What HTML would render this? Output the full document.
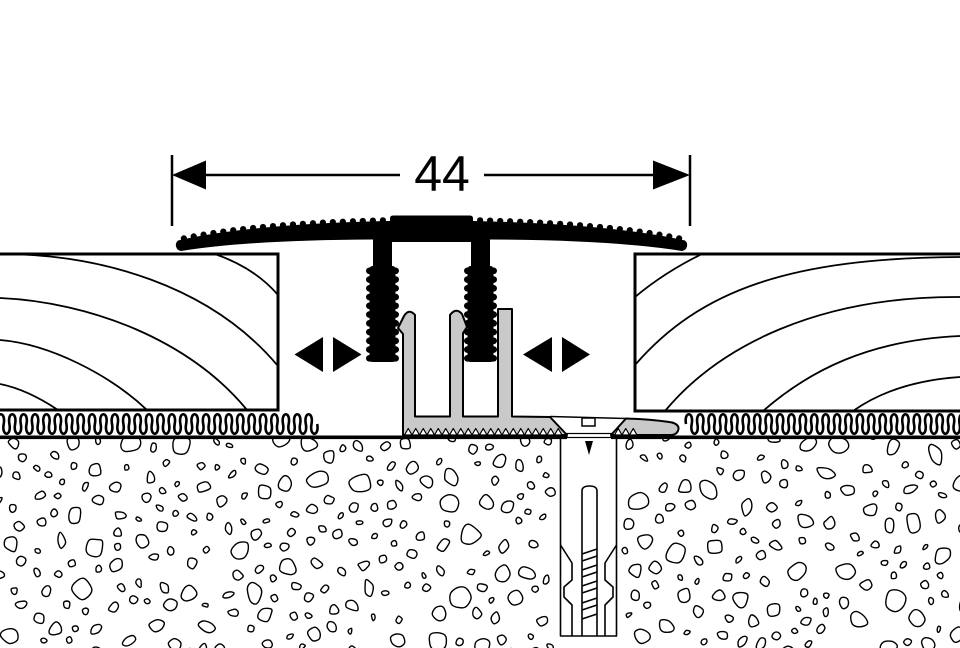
<!DOCTYPE html>
<html><head><meta charset="utf-8">
<style>
html,body{margin:0;padding:0;background:#fff;}
svg{display:block;}
</style></head><body>
<svg id="s" width="960" height="648" viewBox="0 0 960 648" xmlns="http://www.w3.org/2000/svg">
<defs>
<clipPath id="cl"><rect x="0" y="439" width="560.5" height="209"/><rect x="616.5" y="439" width="344" height="209"/></clipPath>
<clipPath id="lb"><rect x="0" y="254" width="278" height="156"/></clipPath>
<clipPath id="rb"><rect x="635" y="254" width="325" height="157"/></clipPath>
</defs>
<rect width="960" height="648" fill="#fff"/>

<g id="peb" clip-path="url(#cl)" fill="#fff" stroke="#000" stroke-width="1.4"></g>

<!-- dowel -->
<g fill="none" stroke="#000" stroke-width="1.6" stroke-linejoin="round">
<path d="M560.5,438 L560.5,636 L616.5,636 L616.5,438"/>
<path d="M560.5,545 L572,563 L572,580 L564,587 L564,597 L572,605 L572,636"/>
<path d="M616.5,545 L605,563 L605,580 L613,587 L613,597 L605,605 L605,636"/>
<path d="M582,636 L582,491 Q582,486 589.5,486 Q597,486 597,491 L597,636"/>
<g id="thr"></g>
</g>
<path d="M585,441 L593,441 L589,455 Z" fill="#000"/>

<!-- floor line -->
<rect x="0" y="435.5" width="567" height="3.6" fill="#000"/>
<rect x="611" y="435.5" width="349" height="3.6" fill="#000"/>
<rect x="567" y="433.5" width="44" height="4" fill="#fff" stroke="#000" stroke-width="1.2"/>

<!-- carpet waves -->
<path id="wl" fill="none" stroke="#000" stroke-width="2.6"/>
<path id="wr" fill="none" stroke="#000" stroke-width="2.6"/>

<!-- boards -->
<g fill="none" stroke="#000" stroke-width="1.8">
<g clip-path="url(#lb)">
<path d="M215,254 Q255,268 278,295"/>
<path d="M0,254 C100,254 210,285 278,366"/>
<path d="M0,298 C90,302 190,340 247,410"/>
<path d="M0,340 C50,344 110,375 147,410"/>
<path d="M0,384 C20,388 40,398 58,410"/>
</g>
<g clip-path="url(#rb)">
<path d="M635,297 Q665,272 702,254"/>
<path d="M635,365 C700,290 790,258 960,257"/>
<path d="M665,411 C720,345 820,296 960,297"/>
<path d="M763,411 C810,370 870,340 960,336"/>
<path d="M853,411 C880,392 915,380 960,377"/>
</g>
</g>
<path d="M-5,254 L278,254 L278,410 L-5,410" fill="none" stroke="#000" stroke-width="3"/>
<path d="M965,254 L635,254 L635,411 L965,411" fill="none" stroke="#000" stroke-width="3"/>

<!-- black T profile -->
<g id="half" fill="#000">
<path d="M390,221 Q250,224 178,240.5 A6,6 0 0 0 181,251 Q250,240 373,239.5 L432,239.5 L432,221 Z"/>
<path d="M432,215.5 L393,215.5 Q390,215.5 390,218.5 L390,242 L432,242 Z"/>
<rect x="373" y="236" width="19" height="126" rx="2"/>
<rect x="369.5" y="266" width="26" height="96" rx="3"/>
<rect x="366" y="267.5" width="33" height="6.6" rx="3.3"/>
<rect x="366" y="276.25" width="33" height="6.6" rx="3.3"/>
<rect x="366" y="285" width="33" height="6.6" rx="3.3"/>
<rect x="366" y="293.75" width="33" height="6.6" rx="3.3"/>
<rect x="366" y="302.5" width="33" height="6.6" rx="3.3"/>
<rect x="366" y="311.25" width="33" height="6.6" rx="3.3"/>
<rect x="366" y="320" width="33" height="6.6" rx="3.3"/>
<rect x="366" y="328.75" width="33" height="6.6" rx="3.3"/>
<rect x="366" y="337.5" width="33" height="6.6" rx="3.3"/>
<rect x="366" y="346.25" width="33" height="6.6" rx="3.3"/>
<rect x="366" y="355" width="33" height="6.6" rx="3.3"/>
<g id="ser"></g>
</g>
<use href="#half" transform="translate(863,0) scale(-1,1)"/>

<!-- aluminium base -->
<path d="M403,435 L403,334 L398,328 L404,316 Q409,308 415,315 L415,416.5 L450,416.5 L450,315 Q456,307 462,314 L467,327 L463,333 L463,416.5 L498,416.5 L498,309 L512,309 L512,416.5 L550,417 L567,435 Z" fill="#c9c9c9" stroke="#000" stroke-width="2" stroke-linejoin="round"/>
<path d="M611,435 L626,418.5 Q655,419.5 672,422.5 Q679,424.5 678.5,429 Q677.5,435 670,435 Z" fill="#c9c9c9" stroke="#000" stroke-width="2" stroke-linejoin="round"/>
<path d="M550,416.5 L626,418.5" stroke="#000" stroke-width="1.6" fill="none"/>
<rect x="582" y="418" width="13" height="8" fill="#fff" stroke="#000" stroke-width="1.5"/>
<g id="teeth" fill="#fff" stroke="#000" stroke-width="1.2" stroke-linejoin="round"></g>

<!-- movement arrows -->
<g fill="#000">
<path d="M294.5,354.5 L323,337 L323,372 Z"/>
<path d="M361.5,354.5 L333,337 L333,372 Z"/>
<path d="M523,354.5 L552,337 L552,372 Z"/>
<path d="M590,354.5 L562,337 L562,372 Z"/>
</g>

<!-- dimension -->
<g stroke="#000" stroke-width="2.5">
<line x1="172" y1="155" x2="172" y2="226"/>
<line x1="690" y1="155" x2="690" y2="226"/>
<line x1="200" y1="175" x2="400" y2="175"/>
<line x1="484" y1="175" x2="660" y2="175"/>
</g>
<path d="M172,175 L206,160.5 L206,189.5 Z" fill="#000"/>
<path d="M690,175 L653,160.5 L653,189.5 Z" fill="#000"/>
<text x="442" y="191" font-family="Liberation Sans, DejaVu Sans, sans-serif" font-size="50" text-anchor="middle" fill="#000">44</text>
</svg>
<script>
(function(){
var NS='http://www.w3.org/2000/svg';
function el(tag,attrs,parent){var e=document.createElementNS(NS,tag);for(var k in attrs)e.setAttribute(k,attrs[k]);parent.appendChild(e);return e;}
// serrations on wing
var ser=document.getElementById('ser');
var P0=[178,240.5],P1=[250,224],P2=[390,221];
function q(t){var a=(1-t)*(1-t),b=2*(1-t)*t,c=t*t;return [a*P0[0]+b*P1[0]+c*P2[0],a*P0[1]+b*P1[1]+c*P2[1]];}
var prev=q(0),acc=0,next=6;
for(var i=1;i<=2000;i++){var p=q(i/2000);acc+=Math.sqrt((p[0]-prev[0])*(p[0]-prev[0])+(p[1]-prev[1])*(p[1]-prev[1]));prev=p;
 if(acc>=next){if(p[0]<387)el('circle',{cx:p[0].toFixed(2),cy:(p[1]-0.8).toFixed(2),r:3.1},ser);next+=10;}}
// waves
function wave(x0,x1){var P=11.4,h=P/2;var d='M'+x0+',424';for(var x=x0;x<x1;x+=P){d+='C'+(x-2.4).toFixed(2)+',411 '+(x+h+2.4).toFixed(2)+',411 '+(x+h).toFixed(2)+',424C'+(x+h-2.4).toFixed(2)+',437 '+(x+P+2.4).toFixed(2)+',437 '+(x+P).toFixed(2)+',424';}return d;}
document.getElementById('wl').setAttribute('d',wave(-2,308));
document.getElementById('wr').setAttribute('d',wave(686,962));
// teeth
var tg=document.getElementById('teeth');var td='';
for(var x=404.5;x+7.5<=564;x+=7.5){td+='M'+x+',435 L'+(x+3.75)+',428.5 L'+(x+7.5)+',435 Z ';}
for(var x2=614.5;x2+7.5<=638;x2+=7.5){td+='M'+x2+',435 L'+(x2+3.75)+',428.5 L'+(x2+7.5)+',435 Z ';}
el('path',{d:td},tg);
// threads
var th=document.getElementById('thr');var thd='';
var ys=[549,556,565,572,581,588,598,605,614];
for(var j=0;j<ys.length;j++){thd+='M582,'+(ys[j]+5)+' L597,'+ys[j]+' ';}
el('path',{d:thd},th);
// pebbles
var seed=987654321;
function r(){seed=(seed*1664525+1013904223)>>>0;return seed/4294967296;}
var peb=[],out='';
for(var n=0;n<20000&&peb.length<380;n++){
 var cx=r()*975-8,cy=437+r()*220;
 if(cx>552&&cx<625)continue;
 var s=3+Math.pow(r(),1.4)*8;
 var ok=true;
 for(var k=0;k<peb.length;k++){var pp=peb[k];var dx=pp[0]-cx,dy=pp[1]-cy,m=pp[2]+s+6;if(dx*dx+dy*dy<m*m){ok=false;break;}}
 if(!ok)continue;
 peb.push([cx,cy,s]);
 var N=6,rot=r()*6.283,e=0.55+r()*0.45,pts=[];
 for(var k2=0;k2<N;k2++){var a=k2*6.283/N+(r()-0.5)*0.5;var rr=s*(0.8+r()*0.35);var lx=Math.cos(a)*rr,ly=Math.sin(a)*rr*e;
  pts.push([cx+lx*Math.cos(rot)-ly*Math.sin(rot),cy+lx*Math.sin(rot)+ly*Math.cos(rot)]);}
 var d='M'+pts[0][0].toFixed(1)+','+pts[0][1].toFixed(1);
 for(k2=0;k2<N;k2++){var p0=pts[(k2-1+N)%N],p1=pts[k2],p2=pts[(k2+1)%N],p3=pts[(k2+2)%N];
  d+='C'+(p1[0]+(p2[0]-p0[0])/6).toFixed(1)+','+(p1[1]+(p2[1]-p0[1])/6).toFixed(1)+' '+(p2[0]-(p3[0]-p1[0])/6).toFixed(1)+','+(p2[1]-(p3[1]-p1[1])/6).toFixed(1)+' '+p2[0].toFixed(1)+','+p2[1].toFixed(1);}
 out+='<path d="'+d+'Z"/>';
}
document.getElementById('peb').innerHTML=out;
})();
</script>
</body></html>
